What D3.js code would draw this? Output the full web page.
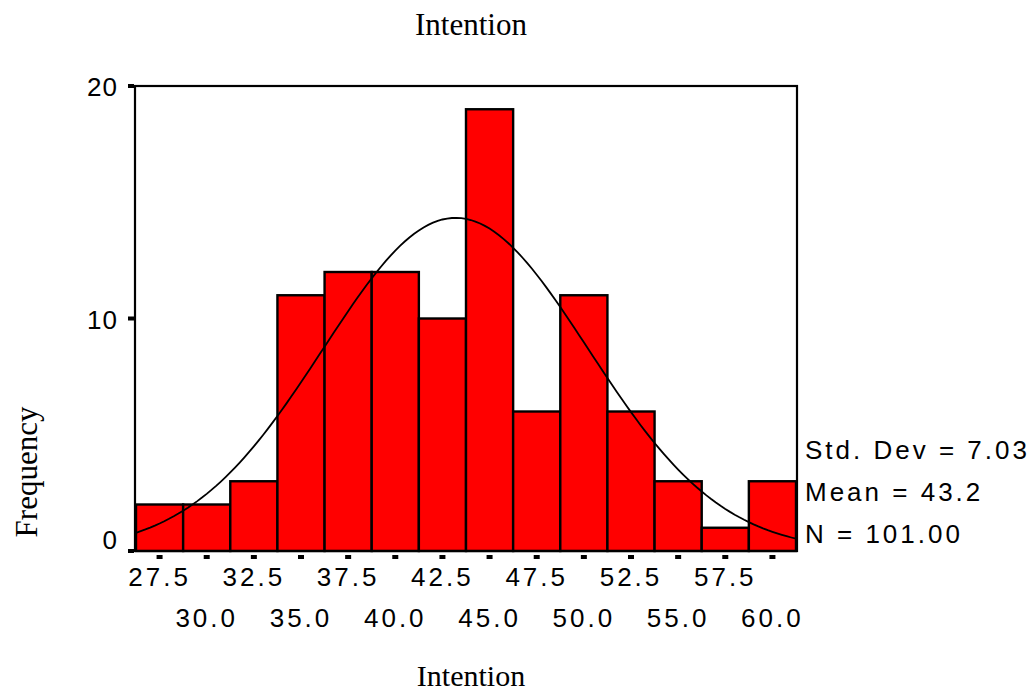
<!DOCTYPE html>
<html lang="en">
<head>
    <meta charset="UTF-8">
    <title>Intention histogram</title>
    <script src="https://d3js.org/d3.v7.min.js"></script>
    <style>
        body { margin: 0; background: #fff; }
        .serif { font-family: "Liberation Serif", "Times New Roman", serif; font-size: 31px; fill: #000; }
        .sans { font-family: "Liberation Sans", Arial, sans-serif; font-size: 26px; fill: #000; }
    </style>
</head>
<body>
    <svg id="chart" width="1032" height="693"></svg>
    <script>
        // histogram data (bin midpoints, counts)
        const binMids = [27.5, 30, 32.5, 35, 37.5, 40, 42.5, 45, 47.5, 50, 52.5, 55, 57.5, 60];
        const counts = [2, 2, 3, 11, 12, 12, 10, 19, 6, 11, 6, 3, 1, 3];
        const topRowTicks = [27.5, 32.5, 37.5, 42.5, 47.5, 52.5, 57.5];
        const bottomRowTicks = [30, 35, 40, 45, 50, 55, 60];
        const yTicks = [0, 10, 20];
        const stats = { mean: 43.2, sd: 7.03, n: 101 };
        const statLines = ["Std. Dev = 7.03", "Mean = 43.2", "N = 101.00"];
        const binWidth = 2.5;

        const svg = d3.select("#chart");
        const plotL = 136, plotR = 796, plotT = 86, plotB = 551;

        const x = d3.scaleLinear()
            .domain([binMids[0] - binWidth / 2, binMids[binMids.length - 1] + binWidth / 2])
            .range([plotL, plotR]);
        const y = d3.scaleLinear().domain([0, 20]).range([plotB, plotT]);

        // bars
        svg.append("g").selectAll("rect")
            .data(binMids)
            .enter()
            .append("rect")
            .attr("x", d => x(d - binWidth / 2))
            .attr("y", (d, i) => y(counts[i]))
            .attr("width", x(binWidth) - x(0))
            .attr("height", (d, i) => y(0) - y(counts[i]))
            .attr("fill", "#ff0000")
            .attr("stroke", "#000")
            .attr("stroke-width", 2.4);

        // normal curve
        const curveX = d3.range(x.domain()[0], x.domain()[1] + 0.01, 0.25);
        const dens = v => stats.n * binWidth / (stats.sd * Math.sqrt(2 * Math.PI)) *
            Math.exp(-0.5 * Math.pow((v - stats.mean) / stats.sd, 2));
        svg.append("path")
            .datum(curveX)
            .attr("fill", "none")
            .attr("stroke", "#000")
            .attr("stroke-width", 1.8)
            .attr("d", d3.line().x(d => x(d)).y(d => y(dens(d))));

        // frame
        svg.append("rect")
            .attr("x", 135).attr("y", plotT)
            .attr("width", plotR - 135 + 1).attr("height", plotB - plotT)
            .attr("fill", "none")
            .attr("stroke", "#000")
            .attr("stroke-width", 2.2);

        // y ticks and labels
        svg.append("g").selectAll("rect")
            .data(yTicks)
            .enter()
            .append("rect")
            .attr("x", 128).attr("y", d => y(d) - 2)
            .attr("width", 6).attr("height", 4)
            .attr("fill", "#000");
        svg.append("g").selectAll("text")
            .data(yTicks)
            .enter()
            .append("text")
            .attr("class", "sans")
            .attr("x", 118)
            .attr("y", d => d === 0 ? y(d) - 2 : y(d) + 10)
            .attr("text-anchor", "end")
            .style("letter-spacing", "1px")
            .text(d => d);

        // x ticks
        svg.append("g").selectAll("rect")
            .data(binMids)
            .enter()
            .append("rect")
            .attr("x", d => x(d) - 3).attr("y", 555)
            .attr("width", 6).attr("height", 4)
            .attr("fill", "#000");
        svg.append("g").selectAll("text")
            .data(topRowTicks)
            .enter()
            .append("text")
            .attr("class", "sans")
            .attr("x", d => x(d))
            .attr("y", 586)
            .attr("text-anchor", "middle")
            .style("letter-spacing", "3px")
            .text(d => d.toFixed(1));
        svg.append("g").selectAll("text")
            .data(bottomRowTicks)
            .enter()
            .append("text")
            .attr("class", "sans")
            .attr("x", d => x(d))
            .attr("y", 627)
            .attr("text-anchor", "middle")
            .style("letter-spacing", "3px")
            .text(d => d.toFixed(1));

        // stats box text
        svg.append("g").selectAll("text")
            .data(statLines)
            .enter()
            .append("text")
            .attr("class", "sans")
            .attr("x", 805)
            .attr("y", (d, i) => 459 + i * 42)
            .style("letter-spacing", "3px")
            .text(d => d);

        // titles
        svg.append("text").attr("class", "serif")
            .attr("x", 471).attr("y", 35).attr("text-anchor", "middle").text("Intention");
        svg.append("text").attr("class", "serif")
            .attr("x", 471).attr("y", 686).attr("text-anchor", "middle")
            .style("font-size", "30px").text("Intention");
        svg.append("text").attr("class", "serif")
            .attr("transform", "translate(37,472) rotate(-90)")
            .attr("text-anchor", "middle").text("Frequency");
    </script>
</body>
</html>
